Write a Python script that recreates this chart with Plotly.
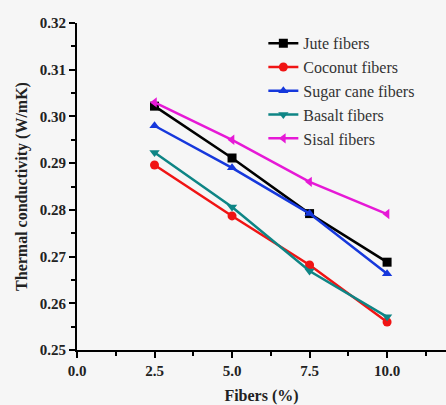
import plotly.graph_objects as go

fibers = [2.5, 5.0, 7.5, 10.0]
jute = [0.3022, 0.2911, 0.2792, 0.2688]
coconut = [0.2896, 0.2787, 0.2682, 0.2560]
sugar_cane = [0.2980, 0.2890, 0.2792, 0.2663]
basalt = [0.2923, 0.2806, 0.2669, 0.2571]
sisal = [0.3030, 0.2950, 0.2860, 0.2791]

x_ticks = [0.0, 2.5, 5.0, 7.5, 10.0]
x_ticklabels = ["0.0", "2.5", "5.0", "7.5", "10.0"]
y_ticks = [0.25, 0.26, 0.27, 0.28, 0.29, 0.30, 0.31, 0.32]
y_ticklabels = ["0.25", "0.26", "0.27", "0.28", "0.29", "0.30", "0.31", "0.32"]

series = [
    ("Jute fibers", jute, "#000000", "square"),
    ("Coconut fibers", coconut, "#f01414", "circle"),
    ("Sugar cane fibers", sugar_cane, "#1638dc", "triangle-up"),
    ("Basalt fibers", basalt, "#0e8585", "triangle-down"),
    ("Sisal fibers", sisal, "#e619d6", "triangle-left"),
]

fig = go.Figure()
for name, vals, col, sym in series:
    fig.add_trace(go.Scatter(
        x=fibers, y=vals, name=name, mode="lines+markers",
        line=dict(color=col, width=2.5),
        marker=dict(symbol=sym, size=9, color=col),
    ))

font_serif = "Liberation Serif"
fig.update_layout(
    template="none",
    width=446, height=405,
    margin=dict(l=77, r=0, t=23, b=55),
    paper_bgcolor="#f6f6f6", plot_bgcolor="#f6f6f6",
    font=dict(family=font_serif, color="#222"),
    showlegend=True,
    legend=dict(
        x=0.505, y=0.99, xanchor="left", yanchor="top",
        bgcolor="rgba(255,255,255,0)",
        font=dict(family=font_serif, size=16, color="#333"),
        tracegroupgap=0, itemwidth=30,
    ),
    xaxis=dict(
        range=[0, 11.9], tickvals=x_ticks, ticktext=x_ticklabels,
        showline=True, linecolor="black", linewidth=2,
        ticks="outside", ticklen=6, tickwidth=2, tickcolor="black",
        minor=dict(tickvals=[1.25, 3.75, 6.25, 8.75, 11.25], ticks="outside",
                   ticklen=4, tickwidth=2, tickcolor="black"),
        showgrid=False, zeroline=False,
        tickfont=dict(family=font_serif, size=15, color="#222", weight="bold"),
        title=dict(text="<b>Fibers (%)</b>", font=dict(family=font_serif, size=16, color="#222"),
                   standoff=14),
    ),
    yaxis=dict(
        range=[0.25, 0.32], tickvals=y_ticks, ticktext=y_ticklabels,
        showline=True, linecolor="black", linewidth=2,
        ticks="outside", ticklen=6, tickwidth=2, tickcolor="black",
        minor=dict(tickvals=[0.255, 0.265, 0.275, 0.285, 0.295, 0.305, 0.315], ticks="outside",
                   ticklen=4, tickwidth=2, tickcolor="black"),
        showgrid=False, zeroline=False,
        tickfont=dict(family=font_serif, size=15, color="#222", weight="bold"),
        title=dict(text="<b>Thermal conductivity (W/mK)</b>",
                   font=dict(family=font_serif, size=16, color="#222"), standoff=8),
    ),
)

fig.write_html("out.html")
